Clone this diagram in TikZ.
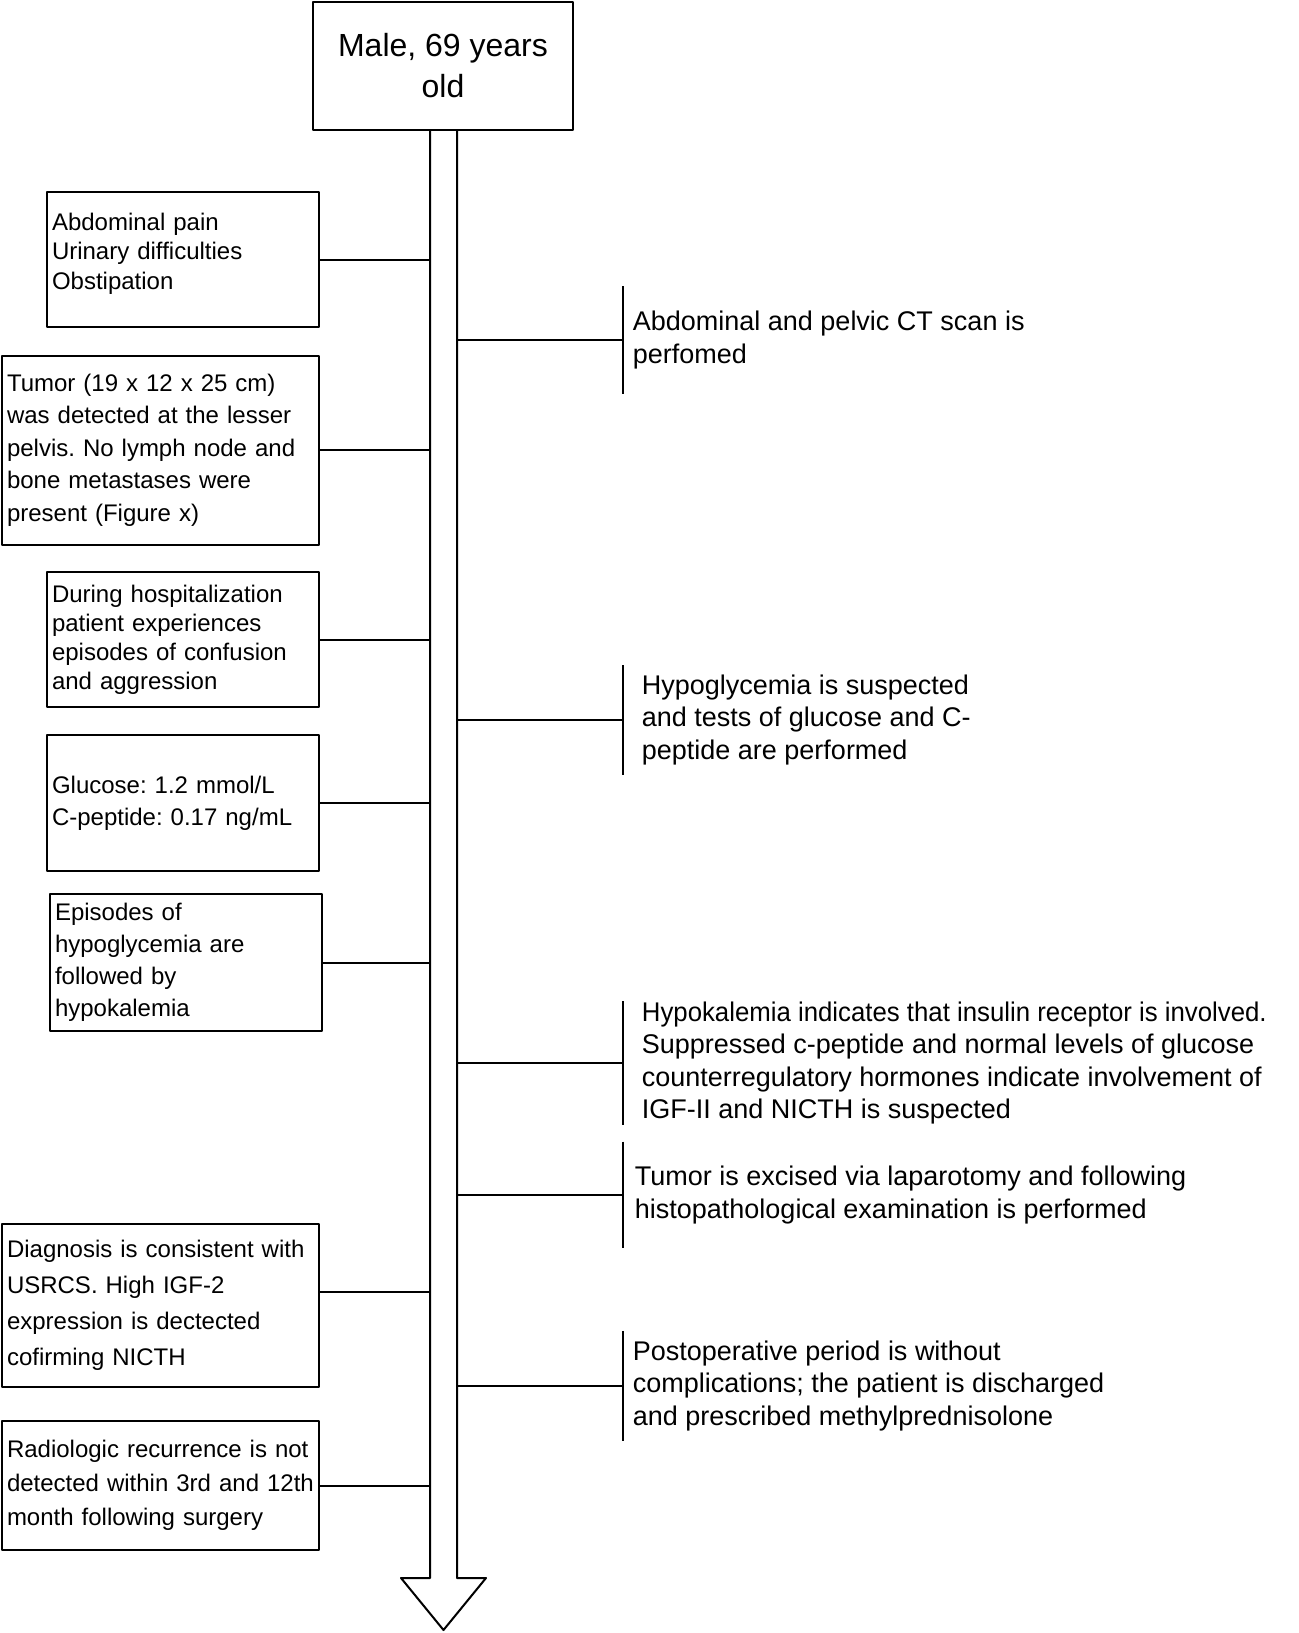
\documentclass[tikz,border=0pt]{standalone}
\usepackage{fontspec}
\setmainfont{Liberation Sans}
\frenchspacing

\tikzset{
  finding/.style={draw, line width=1pt, align=left, inner xsep=2.5pt, inner ysep=0pt,
    font=\fontsize{12pt}{#1}\selectfont},
  action/.style={anchor=west, align=left, inner ysep=0pt,
    font=\fontsize{13.5pt}{16.25pt}\selectfont},
}

\begin{document}
\begin{tikzpicture}[
    x={(0.5pt,0pt)},
    y={(0pt,-0.5pt)},
    line join=round
  ]
  \useasboundingbox (0,0) rectangle (1299,1633);

  \node[draw, line width=1pt, minimum width=130pt, minimum height=64pt, align=center,
    font=\fontsize{16pt}{20.5pt}\selectfont] (age) at (443,66) {Male, 69 years\\old};

  \coordinate (shaftL) at (430,130);
  \coordinate (shaftR) at (457,130);
  \draw[line width=1pt]
    (age.south -| shaftL) -- (430,1578) -- (401,1578) -- (443.5,1630)
    -- (486,1578) -- (457,1578) -- (age.south -| shaftR);

  % left side
  \node[finding=14.75pt, text width=131pt, minimum height=67.5pt, text depth=38pt]
    (pain) at (183,259.5) {Abdominal pain\\Urinary difficulties\\Obstipation};
  \node[finding=16.25pt, text width=153.5pt, minimum height=94.5pt]
    (tumor) at (160.5,450) {Tumor (19 x 12 x 25 cm)\\was detected at the lesser\\pelvis. No lymph node and\\bone metastases were\\present (Figure x)};
  \node[finding=14.5pt, text width=131pt, minimum height=67.5pt]
    (confusion) at (183,639.5) {During hospitalization\\patient experiences\\episodes of confusion\\and aggression};
  \node[finding=16pt, text width=131pt, minimum height=68pt]
    (glucose) at (183,803) {Glucose: 1.2 mmol/L\\C-peptide: 0.17 ng/mL};
  \node[finding=16pt, text width=131pt, minimum height=68.5pt]
    (episodes) at (186,962.5) {Episodes of\\hypoglycemia are\\followed by\\hypokalemia};
  \node[finding=18pt, text width=153.5pt, minimum height=81.5pt]
    (diagnosis) at (160.5,1305.5) {Diagnosis is consistent with\\USRCS. High IGF-2\\expression is dectected\\cofirming NICTH};
  \node[finding=17pt, text width=153.5pt, minimum height=64.5pt]
    (recurrence) at (160.5,1485.5) {Radiologic recurrence is not\\detected within 3rd and 12th\\month following surgery};

  \foreach \n/\a in {pain/east, tumor/east, confusion/east, glucose/east,
      episodes/east, diagnosis/5, recurrence/east}
    \draw[line width=1pt] (\n.\a) -- (\n.\a -| shaftL);

  % right side
  \node[action, inner xsep=5pt, minimum height=53.25pt]
    (ctscan) at (622.5,340) {Abdominal and pelvic CT scan is\\perfomed};
  \node[action, inner xsep=9.5pt, minimum height=54.25pt]
    (suspect) at (622.5,720) {Hypoglycemia is suspected\\and tests of glucose and C-\\peptide are performed};
  \node[action, inner xsep=9.5pt, minimum height=59.75pt]
    (igf) at (622.5,1063) {\scalebox{0.955}[1]{Hypokalemia indicates that insulin receptor is involved.}\\Suppressed c-peptide and normal levels of glucose\\counterregulatory hormones indicate involvement of\\IGF-II and NICTH is suspected};
  \node[action, inner xsep=6pt, minimum height=53pt]
    (excision) at (622.5,1195) {Tumor is excised via laparotomy and following\\histopathological examination is performed};
  \node[action, inner xsep=5pt, minimum height=54.75pt]
    (postop) at (622.5,1386) {Postoperative period is without\\complications; the patient is discharged\\and prescribed methylprednisolone};

  \foreach \n in {ctscan, suspect, igf, excision, postop}
    \draw[line width=1pt]
      (\n.north west) -- (\n.south west)
      (\n.west -| shaftR) -- (\n.west);
\end{tikzpicture}
\end{document}
